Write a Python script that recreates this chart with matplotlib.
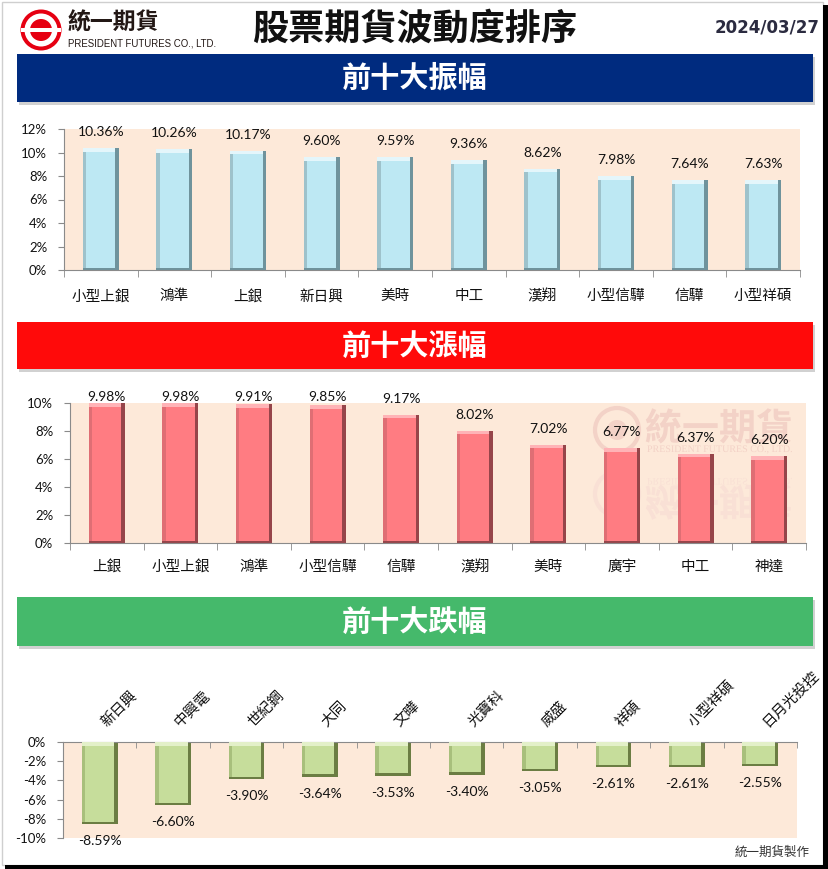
import matplotlib
matplotlib.use('Agg')
import matplotlib.pyplot as plt
from matplotlib.patches import Rectangle, Circle, PathPatch
from matplotlib.textpath import TextPath
from matplotlib.font_manager import FontProperties
import matplotlib.transforms as mtransforms
import numpy as np

# ---------------- data ----------------
amp_names = ['小型上銀', '鴻準', '上銀', '新日興', '美時', '中工', '漢翔', '小型信驊', '信驊', '小型祥碩']
amp_values = [10.36, 10.26, 10.17, 9.60, 9.59, 9.36, 8.62, 7.98, 7.64, 7.63]
up_names = ['上銀', '小型上銀', '鴻準', '小型信驊', '信驊', '漢翔', '美時', '廣宇', '中工', '神達']
up_values = [9.98, 9.98, 9.91, 9.85, 9.17, 8.02, 7.02, 6.77, 6.37, 6.20]
down_names = ['新日興', '中興電', '世紀鋼', '大同', '文曄', '光寶科', '威盛', '祥碩', '小型祥碩', '日月光投控']
down_values = [-8.59, -6.60, -3.90, -3.64, -3.53, -3.40, -3.05, -2.61, -2.61, -2.55]
amp_ticks = [0, 2, 4, 6, 8, 10, 12]
up_ticks = [0, 2, 4, 6, 8, 10]
down_ticks = [-10, -8, -6, -4, -2, 0]

title = '股票期貨波動度排序'
date_text = '2024/03/27'
banner_titles = ['前十大振幅', '前十大漲幅', '前十大跌幅']
footer = '統一期貨製作'

CJK = ['Noto Sans CJK TC', 'DejaVu Sans']
NUM = ['Lato', 'DejaVu Sans']

W, H = 829, 869
fig = plt.figure(figsize=(W / 100, H / 100), dpi=100)
fig.patch.set_facecolor('white')

# pixel transform (x right, y down) -> figure
pix = mtransforms.Affine2D().scale(1 / W, -1 / H).translate(0, 1) + fig.transFigure

# overlay axes for header / banners / frame
ov = fig.add_axes([0, 0, 1, 1], zorder=0)
ov.set_xlim(0, W)
ov.set_ylim(H, 0)
ov.axis('off')

# frame
ov.add_patch(Rectangle((2, 2), 821, 863, fill=False, ec='#cfcfcf', lw=1))
ov.add_patch(Rectangle((823, 5), 6, 864, color='black', lw=0))
ov.add_patch(Rectangle((5, 865), 824, 4, color='black', lw=0))

# logo
ov.add_patch(Circle((41, 30), 20.5, color='#e60012', lw=0))
ov.add_patch(Circle((41, 30), 16.5, color='white', lw=0))
ov.add_patch(Circle((41, 30), 11, color='#e60012', lw=0))
ov.add_patch(Rectangle((21, 28.3), 40, 3.4, color='white', lw=0))
ov.text(68, 23, '統一期貨', fontsize=16.5, fontweight='bold', family=CJK,
        color='#231815', ha='left', va='center')
ov.text(68, 44, 'PRESIDENT FUTURES CO., LTD.', fontsize=6.9, family=['Liberation Sans'],
        color='#231815', ha='left', va='center')

ov.text(415, 29, title, fontsize=26, fontweight='bold', family=CJK,
        color='#111111', ha='center', va='center')
ov.text(820, 27, date_text, fontsize=12, fontweight='bold', family=['DejaVu Sans'],
        color='#2b2b40', ha='right', va='center')

# banners
banner_specs = [(54, 48, '#002b7f'), (322, 47, '#ff0a0a'), (597, 49, '#45b96b')]
for (top, hgt, col), txt in zip(banner_specs, banner_titles):
    ov.add_patch(Rectangle((19, top + 3), 796, hgt, color='#9a9a9a', alpha=0.45, lw=0))
    ov.add_patch(Rectangle((17, top), 796, hgt, color=col, lw=0))
    ov.text(415, top + hgt / 2, txt, fontsize=21, fontweight='bold', family=CJK,
            color='white', ha='center', va='center')

ov.text(810, 852, footer, fontsize=9, family=CJK, color='#333333', ha='right', va='center')


def axes_px(left, top, right, bottom):
    return fig.add_axes([left / W, 1 - bottom / H, (right - left) / W, (bottom - top) / H], zorder=2)


def bevel_bars(ax, vals, colors, ppu, pxw, w=0.49, b=3.5):
    dark, mid, light, face = colors
    x = np.arange(len(vals))
    v = np.asarray(vals, dtype=float)
    lo = np.minimum(0, v)
    hi = np.maximum(0, v)
    bx = b / pxw
    by = b / ppu
    byb = 2.5 / ppu
    ax.bar(x, hi - lo, w, bottom=lo, color=dark, lw=0, zorder=2)
    ax.bar(x - bx / 2, hi - lo - byb, w - bx, bottom=lo + byb, color=mid, lw=0, zorder=3)
    ax.bar(x - bx / 2, by, w - bx, bottom=hi - by, color=light, lw=0, zorder=4)
    ax.bar(x, hi - lo - by - byb, w - 2 * bx, bottom=lo + byb, color=face, lw=0, zorder=5)


def setup(ax, names, vals, ticks, ylim, colors, box, top_labels=False, label_pad=13):
    left, top, right, bottom = box
    ppu = (bottom - top) / (ylim[1] - ylim[0])
    pxw = (right - left) / len(vals)
    ax.set_facecolor('#fde9d9')
    ax.set_xlim(-0.5, len(vals) - 0.5)
    ax.set_ylim(*ylim)
    bevel_bars(ax, vals, colors, ppu, pxw)
    ax.spines['right'].set_visible(False)
    if top_labels:
        ax.spines['bottom'].set_visible(False)
        ax.spines['top'].set_color('#8a8a8a')
    else:
        ax.spines['top'].set_visible(False)
        ax.spines['bottom'].set_color('#8a8a8a')
    ax.spines['left'].set_color('#8a8a8a')
    ax.set_yticks(ticks)
    ax.set_yticklabels([f'{t}%' for t in ticks], family=NUM, fontsize=9.5, color='#111111')
    ax.tick_params(axis='y', length=4, color='#8a8a8a', pad=8)
    ax.set_xticks(np.arange(len(vals)))
    ax.set_xticks(np.arange(len(vals) + 1) - 0.5, minor=True)
    if top_labels:
        ax.xaxis.set_ticks_position('top')
        ax.set_xticklabels(names, family=CJK, fontsize=10.5, rotation=45, ha='left',
                           rotation_mode='anchor', va='bottom', color='#111111')
        ax.tick_params(axis='x', which='major', length=0, pad=label_pad, top=True, bottom=False)
        ax.tick_params(axis='x', which='minor', length=4, direction='in', color='#8a8a8a',
                       top=True, bottom=False)
        shift = mtransforms.ScaledTranslation(9 / 100, 0, fig.dpi_scale_trans)
        for lab in ax.get_xticklabels():
            lab.set_transform(lab.get_transform() + shift)
    else:
        ax.set_xticklabels(names, family=CJK, fontsize=10.5, color='#111111')
        ax.tick_params(axis='x', which='major', length=0, pad=label_pad)
        ax.tick_params(axis='x', which='minor', length=5, color='#8a8a8a')
    # value labels
    for i, v in enumerate(vals):
        if v >= 0:
            y = min(v + 16 / ppu, ylim[1] + 6 / ppu)
        else:
            y = v - 17 / ppu
        ax.text(i, y, f'{v:.2f}%', family=NUM, fontsize=10, color='#111111',
                ha='center', va='center', clip_on=False, zorder=6)


box1 = (64, 129, 800, 270)
ax1 = axes_px(*box1)
setup(ax1, amp_names, amp_values, amp_ticks, (0, 12),
      ('#6f939c', '#9ec2cb', '#e4f6fb', '#bde8f3'), box1, label_pad=14)

box2 = (70, 403, 806, 543)
ax2 = axes_px(*box2)
# watermark inside chart 2
fpw = FontProperties(family='Noto Sans CJK TC', weight='bold')
fpl = FontProperties(family='Liberation Serif')
wm = '#f3d2c7'
wm2 = '#f9e0d5'
ax2.add_patch(Circle((617, 430), 22, fill=False, ec=wm, lw=3, transform=pix, zorder=1))
ax2.add_patch(Circle((617, 430), 10, color=wm, lw=0, transform=pix, zorder=1))
ax2.add_patch(Circle((617, 494), 22, fill=False, ec=wm2, lw=3, transform=pix, zorder=1))
tp = TextPath((0, 0), '統一期貨', size=37, prop=fpw)
ax2.add_patch(PathPatch(tp, color=wm, lw=0, zorder=1,
                        transform=mtransforms.Affine2D().scale(1, -1).translate(645, 440) + pix))
ax2.add_patch(PathPatch(tp, color=wm2, lw=0, zorder=1,
                        transform=mtransforms.Affine2D().translate(645, 488) + pix))
tp2 = TextPath((0, 0), 'PRESIDENT FUTURES CO., LTD.', size=10, prop=fpl)
ax2.add_patch(PathPatch(tp2, color=wm, lw=0, zorder=1,
                        transform=mtransforms.Affine2D().scale(1, -1).translate(647, 452) + pix))
ax2.add_patch(PathPatch(tp2, color=wm2, lw=0, zorder=1,
                        transform=mtransforms.Affine2D().translate(647, 478) + pix))
setup(ax2, up_names, up_values, up_ticks, (0, 10),
      ('#96454a', '#df6e74', '#ffb3b6', '#ff7c82'), box2, label_pad=12)

box3 = (63, 742, 797, 838)
ax3 = axes_px(*box3)
setup(ax3, down_names, down_values, down_ticks, (-10, 0),
      ('#6b7d43', '#a8bf7c', '#e3f0c9', '#c6dd9b'), box3, top_labels=True, label_pad=9)

fig.savefig('out.png', dpi=100)
